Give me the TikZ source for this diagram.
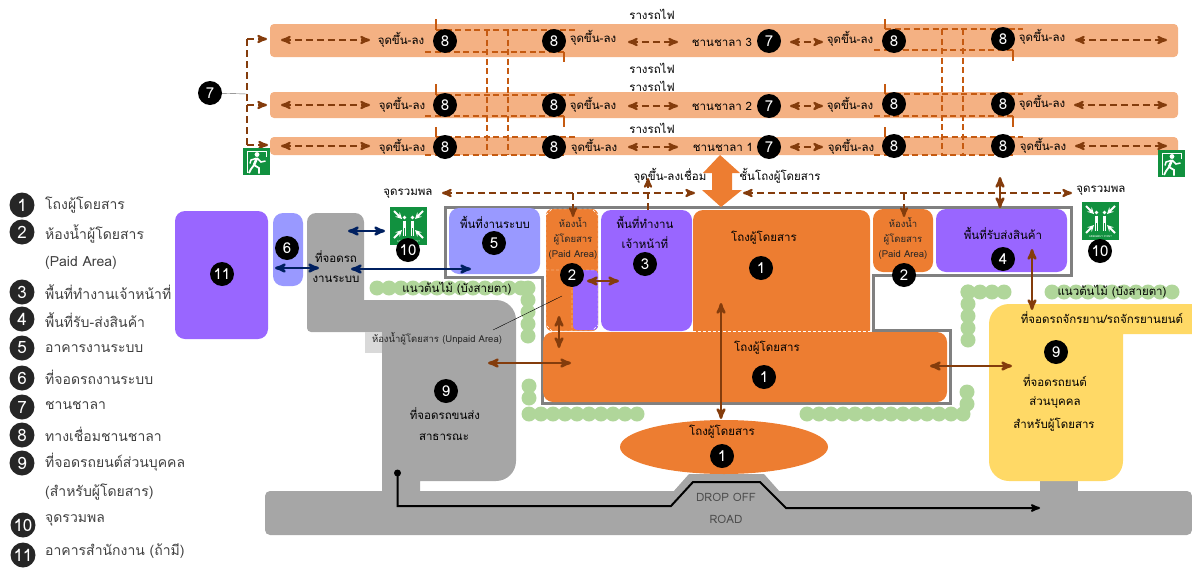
\documentclass[tikz,border=0pt]{standalone}
\usepackage{fontspec}
\setmainfont[Script=Thai]{Loma}
\usepackage{tikz}
\usetikzlibrary{arrows}

\definecolor{platorange}{HTML}{F4B183}
\definecolor{hallorange}{HTML}{ED7D31}
\definecolor{officepurple}{HTML}{9966FF}
\definecolor{systemblue}{HTML}{9999FF}
\definecolor{parkgray}{HTML}{A6A6A6}
\definecolor{parkyellow}{HTML}{FFD966}
\definecolor{bushgreen}{HTML}{B0D69A}
\definecolor{signgreen}{HTML}{11913F}
\definecolor{walkbrown}{HTML}{843C0C}
\definecolor{linkorange}{HTML}{C55A11}
\definecolor{linkblue}{HTML}{002060}

\tikzset{
  exit sign/.pic={
    \fill[signgreen] (0,0) rectangle (27,27);
    \draw[white,line width=1pt] (4,25) -- (4,3) -- (23.5,3) -- (23.5,9);
    \fill[white] (14,6.5) circle (2.4);
    \draw[white,line width=2.6pt] (14,10) -- (11,17);
    \draw[white,line width=1.8pt] (11,17) -- (8,21) -- (6,25);
    \draw[white,line width=1.8pt] (11,17) -- (16,20) -- (16,25.5);
    \draw[white,line width=1.5pt] (13,10.5) -- (8,12) -- (7,15.5);
    \draw[white,line width=1.5pt] (14,10) -- (18,14) -- (22.5,13);
  },
  gather sign/.pic={
    \fill[signgreen] (0,0) rectangle (37,38);
    \foreach \ax/\ay/\bx/\by in {4/4/12/12,33/4/25/12,4/31/12/23,33/31/25/23}
      \draw[white,line width=1.8pt,-stealth] (\ax,\ay) -- (\bx,\by);
    \foreach \px in {14.5,22.5} {
      \fill[white] (\px,10.5) circle (1.9);
      \draw[white,line width=3.4pt] (\px,13.5) -- (\px,21);
      \draw[white,line width=1.5pt] (\px-.9,21) -- (\px-.9,29) (\px+.9,21) -- (\px+.9,29);
    }
    \node[white,font=\fontsize{2.6}{3}\selectfont,inner sep=0pt] (gatherlabel) at (18.5,34.5) {ASSEMBLY POINT};
  }
}

\begin{document}
\begin{tikzpicture}[x=1pt,y=-1pt,
    num node/.style={circle,fill=black,text=white,minimum size=24pt,inner sep=0pt,font=\fontsize{15}{15}\selectfont},
    key node/.style={circle,fill=black!85,text=white,minimum size=25pt,inner sep=0pt,font=\fontsize{17}{17}\selectfont},
    key text/.style={anchor=west,inner sep=0pt,text=black!75,font=\fontsize{14}{16}\selectfont},
    plan text/.style={inner sep=1pt,text=black,font=\fontsize{11.5}{13}\selectfont},
    small text/.style={inner sep=1pt,text=black!85,font=\fontsize{9.5}{11}\selectfont},
    platform/.style={fill=platorange,rounded corners=4pt},
    room/.style={rounded corners=10pt},
    bush/.style={bushgreen,line width=15pt,line cap=round,dash pattern=on 0pt off 12pt},
    walk/.style={walkbrown,line width=2.5pt,stealth'-stealth'},
    walk dash/.style={walkbrown,line width=2.2pt,dash pattern=on 7pt off 4pt,stealth'-stealth'},
    drop dash/.style={walkbrown,line width=2.2pt,dash pattern=on 7pt off 4pt},
    staff walk/.style={linkblue,line width=2.5pt,stealth'-stealth'},
    link dash/.style={linkorange,line width=2pt,dash pattern=on 6pt off 3.5pt},
    link wall/.style={linkorange,line width=2pt}]
  \useasboundingbox (0,0) rectangle (1192,568);

  % platforms
  \fill[platform] (270,24) rectangle (1178,57);
  \fill[platform] (270,92) rectangle (1178,118);
  \fill[platform] (270,137) rectangle (1178,155);

  % covered links, west
  \draw[link wall] (436,19) -- (436,30) (564,52) -- (564,62);
  \draw[link wall] (436,84) -- (436,95) (564,116) -- (564,127);
  \draw[link wall] (436,127) -- (436,137);
  \draw[link dash] (436,30) -- (575,30) (425,52) -- (564,52);
  \draw[link dash] (436,95) -- (575,95) (425,116) -- (564,116);
  \draw[link dash] (436,137) -- (575,137) (425,155) -- (564,155);
  \draw[link dash] (487,30) -- (487,155) (508,30) -- (508,155);
  % covered links, east
  \draw[link wall] (885,19) -- (885,29) (1013,50) -- (1013,61);
  \draw[link wall] (885,84) -- (885,94) (1013,116) -- (1013,127);
  \draw[link wall] (885,127) -- (885,137);
  \draw[link dash] (885,29) -- (1023,29) (874,50) -- (1013,50);
  \draw[link dash] (885,94) -- (1023,94) (874,116) -- (1013,116);
  \draw[link dash] (885,137) -- (1023,137) (874,155) -- (1013,155);
  \draw[link dash] (942,29) -- (942,155) (963,29) -- (963,155);

  % platform text
  \node[plan text] (rail1) at (652,14) {รางรถไฟ};
  \node[plan text] (rail2) at (652,68) {รางรถไฟ};
  \node[plan text] (rail3) at (652,86) {รางรถไฟ};
  \node[plan text] (rail4) at (652,128) {รางรถไฟ};
  \node[plan text] (stop3a) at (401,40) {จุดขึ้น-ลง};
  \node[plan text] (stop3b) at (593,38) {จุดขึ้น-ลง};
  \node[plan text] (stop3c) at (850,39) {จุดขึ้น-ลง};
  \node[plan text] (stop3d) at (1042,37) {จุดขึ้น-ลง};
  \node[plan text] (stop2a) at (402,105) {จุดขึ้น-ลง};
  \node[plan text] (stop2b) at (593,105) {จุดขึ้น-ลง};
  \node[plan text] (stop2c) at (850,105) {จุดขึ้น-ลง};
  \node[plan text] (stop2d) at (1042,103) {จุดขึ้น-ลง};
  \node[plan text] (stop1a) at (402,147) {จุดขึ้น-ลง};
  \node[plan text] (stop1b) at (594,147) {จุดขึ้น-ลง};
  \node[plan text] (stop1c) at (851,147) {จุดขึ้น-ลง};
  \node[plan text] (stop1d) at (1043,146) {จุดขึ้น-ลง};
  \node[plan text] (plat3) at (722,42) {ชานชาลา 3};
  \node[plan text] (plat2) at (722,106) {ชานชาลา 2};
  \node[plan text] (plat1) at (723,147) {ชานชาลา 1};

  \node[num node] (a3) at (445,41) {8};
  \node[num node] (b3) at (554,41) {8};
  \node[num node] (c3) at (894,41) {8};
  \node[num node] (d3) at (1003,39) {8};
  \node[num node] (a2) at (445,105) {8};
  \node[num node] (b2) at (554,105) {8};
  \node[num node] (c2) at (894,104) {8};
  \node[num node] (d2) at (1003,104) {8};
  \node[num node] (a1) at (445,147) {8};
  \node[num node] (b1) at (554,147) {8};
  \node[num node] (c1) at (894,146) {8};
  \node[num node] (d1) at (1003,146) {8};
  \node[num node] (p3) at (769,41) {7};
  \node[num node] (p2) at (769,106) {7};
  \node[num node] (p1) at (769,147) {7};
  \node[num node] (p0) at (210,93) {7};

  % walkways along the platforms
  \coordinate (w3a) at (281,40); \coordinate (w3b) at (370,40);
  \coordinate (w3c) at (628,42); \coordinate (w3d) at (678,42);
  \coordinate (w3e) at (790,42); \coordinate (w3f) at (823,42);
  \coordinate (w3g) at (1075,40); \coordinate (w3h) at (1167,40);
  \coordinate (w2a) at (281,105); \coordinate (w2b) at (370,105);
  \coordinate (w2c) at (628,106); \coordinate (w2d) at (678,106);
  \coordinate (w2e) at (790,106); \coordinate (w2f) at (823,106);
  \coordinate (w2g) at (1074,105); \coordinate (w2h) at (1167,105);
  \coordinate (w1a) at (281,146); \coordinate (w1b) at (370,146);
  \coordinate (w1c) at (628,147); \coordinate (w1d) at (678,147);
  \coordinate (w1e) at (790,147); \coordinate (w1f) at (823,147);
  \coordinate (w1g) at (1075,146); \coordinate (w1h) at (1167,146);
  \path[walk dash]
    (w3a) edge (w3b) (w3c) edge (w3d) (w3e) edge (w3f) (w3g) edge (w3h)
    (w2a) edge (w2b) (w2c) edge (w2d) (w2e) edge (w2f) (w2g) edge (w2h)
    (w1a) edge (w1b) (w1c) edge (w1d) (w1e) edge (w1f) (w1g) edge (w1h);

  % exit route on the west end
  \coordinate (bend0) at (247,94);
  \coordinate (bend3) at (247,39);
  \coordinate (bend2) at (247,105);
  \coordinate (bend1) at (247,145);
  \coordinate (end3) at (267,39);
  \coordinate (end2) at (267,105);
  \coordinate (end1) at (268,145);
  \draw[black!60] (p0) -- (bend0);
  \draw[drop dash] (bend3) -- (bend1);
  \draw[drop dash,-stealth'] (bend3) -- (end3);
  \draw[drop dash,-stealth'] (bend2) -- (end2);
  \draw[drop dash,-stealth'] (bend1) -- (end1);
  \pic at (243,148) {exit sign};
  \pic at (1158,150) {exit sign};

  % grounds
  \fill[parkgray,rounded corners=5pt] (265,491) rectangle (1192,535);
  \fill[parkgray] (1040,475) rectangle (1078,495);
  \fill[parkgray] (673,492) -- (689,474) -- (764,474) -- (780,492) -- cycle;
  \fill[parkgray] [rounded corners=9pt] (307,300) -- (307,213) -- (364,213) [sharp corners] -- (364,300)
    [rounded corners=20pt] -- (516,300) -- (516,481) [sharp corners] -- (420,481) -- (420,495) -- (382,495)
    -- (382,332) [rounded corners=4pt] -- (307,332) -- (307,300) -- cycle;
  \fill[black!15] (365,332) rectangle (382,353);
  \fill[parkyellow] [rounded corners=20pt] (989,400) -- (989,304) [sharp corners] -- (1192,304) -- (1192,334)
    -- (1123,334) [rounded corners=20pt] -- (1123,481) -- (989,481) -- (989,400) -- cycle;

  % hedges
  \draw[bush] (377,288) -- (523,288);
  \draw[bush] (528,288) -- (528,340);
  \draw[bush] (529,386) -- (529,402);
  \draw[bush] (529,414) -- (641,414);
  \draw[bush] (807,414) -- (967,414);
  \draw[bush] (967,392) -- (967,414);
  \draw[bush] (968,292) -- (1012,292);
  \draw[bush] (968,292) -- (968,350);
  \draw[bush] (1052,292) -- (1175,292);

  % building outline
  \draw[black!50,line width=3pt] (445,207) -- (1071,207) -- (1071,275) -- (873,275)
    -- (873,330) -- (950,330) -- (950,403) -- (542,403) -- (542,277) -- (445,277) -- cycle;

  % rooms
  \fill[officepurple,room] (175,211) rectangle (268,339);
  \fill[systemblue,room] (273,213) rectangle (303,286);
  \fill[systemblue,room] (449,208) rectangle (540,274);
  \fill[hallorange,rounded corners=6pt] (546,209) rectangle (598,331);
  \fill[officepurple,rounded corners=4pt] (573,270) rectangle (598,330);
  \draw[white,densely dashed] (546,325) -- (546,215) -- (552,209) -- (592,209) -- (598,215)
    -- (598,325) -- (592,331) -- (552,331) -- cycle (546,270) -- (598,270) (572,270) -- (572,331);
  \fill[officepurple,room] (601,210) rectangle (692,331);
  \fill[hallorange,room] (693,210) rectangle (870,340);
  \fill[hallorange,room] (543,332) rectangle (947,402);
  \draw[white,densely dashed] (693,331) -- (870,331);
  \fill[hallorange,room] (873,209) rectangle (933,272);
  \fill[officepurple,room] (936,209) rectangle (1067,272);
  \fill[hallorange] (724,447) ellipse (104 and 27);
  \fill[hallorange] (720,155) -- (740,173) -- (732,173) -- (732,190) -- (742,190) -- (721,207)
    -- (702,190) -- (712,190) -- (712,173) -- (703,173) -- cycle;

  % gathering points
  \pic at (390,207) {gather sign};
  \pic at (1082,202) {gather sign};

  % room text
  \node[plan text] (hallc) at (764,238) {โถงผู้โดยสาร};
  \node[plan text] (halld) at (767,348) {โถงผู้โดยสาร};
  \node[plan text] (halle) at (722,432) {โถงผู้โดยสาร};
  \node[plan text] (staff1) at (645,222) {พื้นที่ทำงาน};
  \node[plan text] (staff2) at (645,243) {เจ้าหน้าที่};
  \node[plan text] (system) at (495,222) {พื้นที่งานระบบ};
  \node[plan text] (goods) at (1003,233) {พื้นที่รับส่งสินค้า};
  \node[plan text] (yard1) at (336,257) {ที่จอดรถ};
  \node[plan text] (yard2) at (336,279) {งานระบบ};
  \node[small text] (wc1) at (573,222) {ห้องน้ำ};
  \node[small text] (wc2) at (573,239) {ผู้โดยสาร};
  \node[small text] (wc3) at (573,255) {(Paid Area)};
  \node[small text] (wc4) at (903,222) {ห้องน้ำ};
  \node[small text] (wc5) at (903,239) {ผู้โดยสาร};
  \node[small text] (wc6) at (903,255) {(Paid Area)};
  \node[small text] (unpaid) at (437,339) {ห้องน้ำผู้โดยสาร (Unpaid Area)};
  \node[plan text] (hedge1) at (457,289) {แนวต้นไม้ (บังสายตา)};
  \node[plan text] (hedge2) at (1112,292) {แนวต้นไม้ (บังสายตา)};
  \node[plan text] (bus1) at (445,414) {ที่จอดรถขนส่ง};
  \node[plan text] (bus2) at (444,437) {สาธารณะ};
  \node[plan text] (bike) at (1102,318) {ที่จอดรถจักรยาน/รถจักรยานยนต์};
  \node[plan text] (car1) at (1055,381) {ที่จอดรถยนต์};
  \node[plan text] (car2) at (1055,403) {ส่วนบุคคล};
  \node[plan text] (car3) at (1054,425) {สำหรับผู้โดยสาร};
  \node[plan text] (meet1) at (408,194) {จุดรวมพล};
  \node[plan text] (meet2) at (1101,191) {จุดรวมพล};
  \node[plan text] (linkup) at (670,176) {จุดขึ้น-ลงเชื่อม};
  \node[plan text] (level) at (780,176) {ชั้นโถงผู้โดยสาร};
  \node[plan text,text=black!70] (drop) at (726,497) {DROP OFF};
  \node[plan text,text=black!70] (road) at (726,519) {ROAD};

  \node[num node] (one1) at (761,268) {1};
  \node[num node] (one2) at (764,377) {1};
  \node[num node] (one3) at (722,456) {1};
  \node[num node] (two1) at (572,275) {2};
  \node[num node] (two2) at (904,275) {2};
  \node[num node] (three) at (645,264) {3};
  \node[num node] (four) at (1003,259) {4};
  \node[num node] (five) at (494,243) {5};
  \node[num node] (six) at (287,248) {6};
  \node[num node] (nine1) at (446,391) {9};
  \node[num node] (nine2) at (1056,352) {9};
  \node[num node] (ten1) at (408,250) {10};
  \node[num node] (ten2) at (1100,251) {10};
  \node[num node] (eleven) at (222,274) {11};

  % circulation
  \coordinate (n1) at (348,231); \coordinate (n2) at (385,231);
  \coordinate (n3) at (275,268); \coordinate (n4) at (319,268);
  \coordinate (n5) at (351,269); \coordinate (n6) at (471,269);
  \path[staff walk] (n1) edge (n2) (n3) edge (n4) (n5) edge (n6);

  \coordinate (m1) at (442,193); \coordinate (m2) at (695,193);
  \coordinate (m3) at (743,193); \coordinate (m4) at (1072,193);
  \coordinate (m5) at (573,193); \coordinate (m6) at (573,217);
  \coordinate (m7) at (904,193); \coordinate (m8) at (904,217);
  \coordinate (m9) at (648,178); \coordinate (m10) at (648,210);
  \coordinate (m11) at (1000,177); \coordinate (m12) at (1000,208);
  \path[walk dash] (m1) edge (m2) (m3) edge (m4);
  \path[drop dash,-stealth'] (m5) edge (m6) (m7) edge (m8) (m10) edge (m9);
  \path[walk] (m11) edge (m12);

  \coordinate (h1) at (930,366); \coordinate (h2) at (1012,366);
  \coordinate (h3) at (1032,249); \coordinate (h4) at (1032,310);
  \coordinate (h5) at (587,281); \coordinate (h6) at (619,281);
  \coordinate (h7) at (559,316); \coordinate (h8) at (559,348);
  \coordinate (h9) at (488,363); \coordinate (h10) at (571,363);
  \coordinate (h11) at (721,303); \coordinate (h12) at (721,419);
  \path[walk] (h1) edge (h2) (h3) edge (h4) (h5) edge (h6) (h7) edge (h8)
    (h9) edge (h10) (h11) edge (h12);

  \coordinate (lead1) at (493,330); \coordinate (lead2) at (562,296);
  \draw[black] (lead1) -- (lead2);

  % traffic line
  \coordinate (t0) at (397.5,473);
  \coordinate (t9) at (1040,508);
  \fill[black] (t0) circle (3.5);
  \draw[black,line width=2pt,-stealth'] (t0) -- (397.5,506) -- (671,506) -- (693,482)
    -- (760,482) -- (786,508) -- (t9);

  % legend
  \node[key node] (k1) at (22,205) {1};
  \node[key node] (k2) at (22,232) {2};
  \node[key node] (k3) at (22,292) {3};
  \node[key node] (k4) at (22,319) {4};
  \node[key node] (k5) at (22,348) {5};
  \node[key node] (k6) at (22,378) {6};
  \node[key node] (k7) at (22,407) {7};
  \node[key node] (k8) at (22,435) {8};
  \node[key node] (k9) at (22,463) {9};
  \node[key node] (k10) at (23,525) {10};
  \node[key node] (k11) at (23,555) {11};
  \node[key text] (t1) at (45,205) {โถงผู้โดยสาร};
  \node[key text] (t2) at (45,234) {ห้องน้ำผู้โดยสาร};
  \node[key text] (t2b) at (45,263) {(Paid Area)};
  \node[key text] (t3) at (45,292) {พื้นที่ทำงานเจ้าหน้าที่};
  \node[key text] (t4) at (45,320) {พื้นที่รับ-ส่งสินค้า};
  \node[key text] (t5) at (45,349) {อาคารงานระบบ};
  \node[key text] (t6) at (45,377) {ที่จอดรถงานระบบ};
  \node[key text] (t7) at (45,405) {ชานชาลา};
  \node[key text] (t8) at (45,434) {ทางเชื่อมชานชาลา};
  \node[key text] (t9b) at (45,462) {ที่จอดรถยนต์ส่วนบุคคล};
  \node[key text] (t9c) at (45,492) {(สำหรับผู้โดยสาร)};
  \node[key text] (t10) at (45,520) {จุดรวมพล};
  \node[key text] (t11) at (45,551) {อาคารสำนักงาน (ถ้ามี)};
\end{tikzpicture}
\end{document}
